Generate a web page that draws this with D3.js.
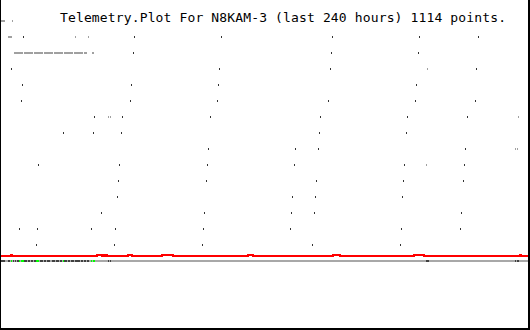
<!DOCTYPE html>
<html>
<head>
<meta charset="utf-8">
<script src="https://cdn.jsdelivr.net/npm/d3@7"></script>
<style>
  body { margin: 0; background: #fff; }
  svg { display: block; }
</style>
</head>
<body>
<svg width="530" height="330"></svg>
<script>
'use strict';

var title = "Telemetry.Plot For N8KAM-3 (last 240 hours) 1114 points.";

// dots per channel row: [row, hour]  (row 1 = bottom channel)
var darkDots = [
	[14, 10.0], [14, 60.5], [14, 100.0], [14, 150.5], [14, 190.0], [14, 216.8],
	[13, 60.0], [13, 150.0], [13, 189.5],
	[12, 4.5], [12, 99.1], [12, 149.5], [12, 215.9],
	[11, 9.5], [11, 59.1], [11, 98.6], [11, 188.6],
	[10, 9.1], [10, 58.6], [10, 98.2], [10, 148.6], [10, 188.2], [10, 215.5],
	[9, 42.3], [9, 55.0], [9, 95.0], [9, 145.0], [9, 184.5], [9, 211.8],
	[8, 28.2], [8, 41.8], [8, 54.5], [8, 144.5], [8, 184.1],
	[7, 94.1], [7, 133.6], [7, 144.1], [7, 210.9],
	[6, 16.8], [6, 53.6], [6, 93.6], [6, 133.2], [6, 183.2], [6, 210.5],
	[5, 53.2], [5, 93.2], [5, 143.2], [5, 182.7], [5, 210.0],
	[4, 52.7], [4, 132.3], [4, 142.7], [4, 182.3],
	[3, 45.5], [3, 92.3], [3, 131.8], [3, 142.3], [3, 209.1], [3, 239.5],
	[2, 8.2], [2, 16.4], [2, 40.9], [2, 51.8], [2, 91.8], [2, 131.4], [2, 181.8], [2, 208.6],
	[1, 15.9], [1, 51.4], [1, 91.4], [1, 141.4], [1, 181.4]
];
var grayDots = [
	[15, 5.0], [14, 33.6], [14, 39.5], [12, 193.6],
	[9, 48.6], [9, 49.5], [9, 235.0], [7, 233.6], [7, 234.5], [6, 193.2]
];
// gray runs: [row, startHour, endHour]
var grayRuns = [
	[15, 0, 1.8], [14, 3.2, 5.0], [13, 5.9, 39.1], [13, 41.4, 42.3]
];

// red trace: [hour, level] change points (step after)
var redBase = 0.3125, redUp = 0.375;
var redTrace = [
	[0, redBase], [4.5, redUp], [5.0, redBase],
	[43.5, redUp], [45.8, redBase], [46.8, redUp], [47.3, redBase], [47.7, redUp], [48.2, redBase],
	[57.7, redUp], [59.5, redBase], [73.2, redUp], [78.0, redBase],
	[112.3, redUp], [114.4, redBase], [150.9, redUp], [154.1, redBase],
	[187.7, redUp], [192.3, redBase], [235.9, redUp], [236.4, redBase], [240, redBase]
];

// status strip at level 0: [startHour, endHour]
var stripDark = [
	[0, 1.8], [3.2, 4.1], [5.5, 5.9], [6.4, 6.8], [7.3, 8.2], [10.5, 11.8], [12.3, 13.2],
	[13.6, 14.5], [15.0, 15.9], [17.7, 19.1], [19.5, 20.5], [20.9, 22.3], [23.2, 24.5],
	[25.0, 26.4], [26.8, 27.7], [28.6, 30.0], [30.5, 31.4], [31.8, 33.2], [33.6, 35.9],
	[36.4, 37.3], [37.7, 38.6], [39.1, 40.0], [48.6, 49.1], [49.5, 50.0],
	[193.2, 194.5], [233.6, 234.1], [234.5, 235.5]
];
var stripGreen = [
	[4.5, 5.0], [8.2, 8.6], [9.1, 10.5], [15.9, 17.3], [28.2, 28.6], [40.9, 41.4], [41.8, 42.7]
];

var svg = d3.select("svg");
var x = d3.scaleLinear().domain([0, 240]).range([1, 529]);
var y = d3.scaleLinear().domain([0, 15]).range([261, 21]);

function px(h) { return Math.round(x(h)); }

svg.append("text")
	.attr("x", 60)
	.attr("y", 22)
	.attr("font-family", "DejaVu Sans Mono")
	.attr("font-size", 13)
	.attr("textLength", 446)
	.attr("lengthAdjust", "spacing")
	.attr("fill", "#000")
	.text(title);

// gray runs
svg.selectAll(".run")
	.data(grayRuns)
	.enter().append("line")
	.attr("x1", function(d) { return px(d[1]); })
	.attr("x2", function(d) { return px(d[2]); })
	.attr("y1", function(d) { return y(d[0]); })
	.attr("y2", function(d) { return y(d[0]); })
	.attr("stroke", "#a0a0a0")
	.attr("stroke-width", 2)
	.attr("stroke-dasharray", function(d) { return d[0] == 13 ? "9,1" : null; });

svg.selectAll(".gdot")
	.data(grayDots)
	.enter().append("rect")
	.attr("x", function(d) { return px(d[1]); })
	.attr("y", function(d) { return y(d[0]) - 1; })
	.attr("width", 1)
	.attr("height", 2)
	.attr("fill", "#a0a0a0");

svg.selectAll(".ddot")
	.data(darkDots)
	.enter().append("rect")
	.attr("x", function(d) { return px(d[1]); })
	.attr("y", function(d) { return y(d[0]) - 1; })
	.attr("width", 1)
	.attr("height", 2)
	.attr("fill", "#333");

// status strip
svg.append("rect")
	.attr("x", x(0))
	.attr("y", y(0) - 1)
	.attr("width", x(240) - x(0))
	.attr("height", 2)
	.attr("fill", "#a8a8a8");
svg.selectAll(".sdark")
	.data(stripDark)
	.enter().append("rect")
	.attr("x", function(d) { return px(d[0]); })
	.attr("y", y(0) - 1)
	.attr("width", function(d) { return Math.max(1, px(d[1]) - px(d[0])); })
	.attr("height", 2)
	.attr("fill", "#404040");
svg.selectAll(".sgreen")
	.data(stripGreen)
	.enter().append("rect")
	.attr("x", function(d) { return px(d[0]); })
	.attr("y", y(0) - 1)
	.attr("width", function(d) { return Math.max(1, px(d[1]) - px(d[0])); })
	.attr("height", 2)
	.attr("fill", "#00ff00");

// red trace
var line = d3.line()
	.x(function(d) { return px(d[0]); })
	.y(function(d) { return y(d[1]); })
	.curve(d3.curveStepAfter);
svg.append("path")
	.datum(redTrace)
	.attr("d", line)
	.attr("fill", "none")
	.attr("stroke", "#ff0000")
	.attr("stroke-width", 2);

// frame
svg.append("rect").attr("x", 0).attr("y", 0).attr("width", 1).attr("height", 330).attr("fill", "#000");
svg.append("rect").attr("x", 528).attr("y", 0).attr("width", 2).attr("height", 330).attr("fill", "#000");
svg.append("rect").attr("x", 0).attr("y", 328).attr("width", 530).attr("height", 2).attr("fill", "#000");
</script>
</body>
</html>
